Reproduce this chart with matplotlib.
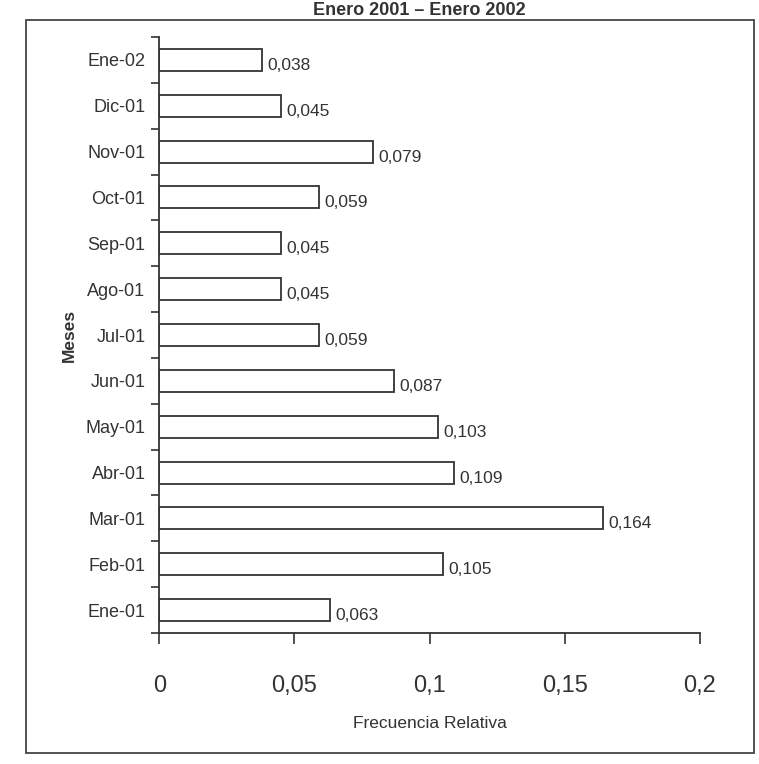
import matplotlib
matplotlib.use("Agg")
import matplotlib.pyplot as plt
from matplotlib.patches import Rectangle
from matplotlib.ticker import FixedLocator, FuncFormatter

meses = ["Ene-01", "Feb-01", "Mar-01", "Abr-01", "May-01", "Jun-01", "Jul-01",
         "Ago-01", "Sep-01", "Oct-01", "Nov-01", "Dic-01", "Ene-02"]
frecuencia = [0.063, 0.105, 0.164, 0.109, 0.103, 0.087, 0.059,
              0.045, 0.045, 0.059, 0.079, 0.045, 0.038]
x_ticks = [0, 0.05, 0.1, 0.15, 0.2]

plt.rcParams["font.family"] = ["Liberation Sans", "DejaVu Sans"]

fig = plt.figure(figsize=(7.59, 7.64), dpi=100)
ax = fig.add_axes([0.210, 0.1715, 0.712, 0.7800])

pos = list(range(len(meses)))
ax.barh(pos, frecuencia, height=0.48, color="white", edgecolor="#333333", linewidth=1.3)

for p, v in zip(pos, frecuencia):
    ax.text(v + 0.002, p - 0.12, f"{v:.3f}".replace(".", ","), va="center", ha="left",
            fontsize=12.5, color="#333333")

ax.set_xlim(0, 0.2)
ax.set_ylim(-0.5, len(meses) - 0.5)
ax.set_yticks(pos)
ax.set_yticklabels(meses, fontsize=13, color="#333333")
ax.yaxis.set_minor_locator(FixedLocator([p - 0.5 for p in range(len(meses) + 1)]))
ax.tick_params(axis="y", which="major", length=0, pad=10)
ax.tick_params(axis="y", which="minor", length=6, width=1.2, direction="out", color="#333333")

ax.set_xticks(x_ticks)
ax.xaxis.set_major_formatter(FuncFormatter(lambda v, _: f"{v:g}".replace(".", ",")))
ax.tick_params(axis="x", length=8, width=1.2, direction="out", labelsize=17,
               pad=22, color="#333333", labelcolor="#333333")

for s in ["top", "right"]:
    ax.spines[s].set_visible(False)
for s in ["left", "bottom"]:
    ax.spines[s].set_linewidth(1.3)
    ax.spines[s].set_color("#333333")

ax.set_xlabel("Frecuencia Relativa", fontsize=12.5, color="#333333", labelpad=14)
ax.set_ylabel("Meses", fontsize=12.5, fontweight="bold", color="#333333", labelpad=6)

fig.text(0.553, 0.997, "Enero 2001 \u2013 Enero 2002", ha="center", va="top",
         fontsize=13, fontweight="bold", color="#333333")

# outer frame around the chart
fig.patches.append(Rectangle((0.034, 0.014), 0.960, 0.960, transform=fig.transFigure,
                             fill=False, edgecolor="#444444", linewidth=1.3))

fig.savefig("out.png", dpi=100)
